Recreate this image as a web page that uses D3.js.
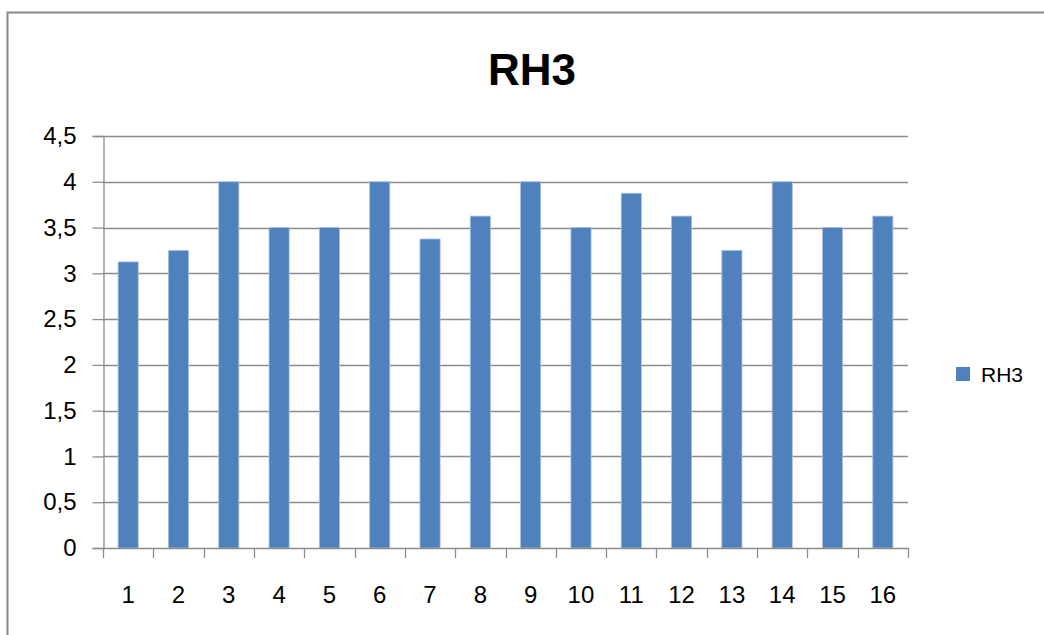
<!DOCTYPE html>
<html>
<head>
<meta charset="utf-8">
<script src="https://cdn.jsdelivr.net/npm/d3@7"></script>
<style>
  html, body { margin: 0; padding: 0; background: #fff; }
  svg { display: block; }
  text { font-family: "Liberation Sans", Arial, sans-serif; fill: #000; }
</style>
</head>
<body>
<svg id="chart" width="1044" height="635"></svg>
<script>
// RH3 scores per item
const categories = ["1","2","3","4","5","6","7","8","9","10","11","12","13","14","15","16"];
const values = [3.125, 3.25, 4, 3.5, 3.5, 4, 3.375, 3.625, 4, 3.5, 3.875, 3.625, 3.25, 4, 3.5, 3.625];
const yTicks = [0, 0.5, 1, 1.5, 2, 2.5, 3, 3.5, 4, 4.5];
const seriesName = "RH3";

const svg = d3.select("#chart");
const W = 1044, H = 635;
const plot = { left: 103, right: 908, top: 136, bottom: 548 };
const barColor = "#4F81BD";
const gridColor = "#8c8c8c";

// outer chart frame
svg.append("rect")
  .attr("x", 7.5).attr("y", 12.5)
  .attr("width", W + 10).attr("height", H + 10)
  .attr("fill", "#fff")
  .attr("stroke", "#888").attr("stroke-width", 2);

const x = d3.scaleBand()
  .domain(categories)
  .range([plot.left, plot.right])
  .paddingInner(0.6)
  .paddingOuter(0.3);

const y = d3.scaleLinear()
  .domain([0, 4.5])
  .range([plot.bottom, plot.top]);

// horizontal gridlines
svg.append("g")
  .selectAll("line")
  .data(yTicks.filter(t => t > 0))
  .join("line")
  .attr("x1", plot.left).attr("x2", plot.right)
  .attr("y1", d => Math.round(y(d)) + 0.5)
  .attr("y2", d => Math.round(y(d)) + 0.5)
  .attr("stroke", gridColor).attr("stroke-width", 1.3);

// bars
svg.append("g")
  .selectAll("rect")
  .data(values)
  .join("rect")
  .attr("x", (d, i) => x(categories[i]))
  .attr("width", x.bandwidth())
  .attr("y", d => y(d))
  .attr("height", d => y(0) - y(d))
  .attr("fill", barColor)
  .attr("stroke", "#a9c0de").attr("stroke-width", 0.8);

// y axis
const yAxis = d3.axisLeft(y)
  .tickValues(yTicks)
  .tickSize(11)
  .tickPadding(16)
  .tickFormat(d => String(d).replace(".", ","));
const gy = svg.append("g")
  .attr("transform", `translate(${plot.left + 0.5},0)`)
  .call(yAxis);
gy.select(".domain").attr("stroke", gridColor).attr("stroke-width", 1.3);
gy.selectAll(".tick line").attr("stroke", gridColor).attr("stroke-width", 1.3);
gy.selectAll(".tick text")
  .attr("font-size", 24)
  .attr("font-family", "Liberation Sans, Arial, sans-serif")
  .attr("fill", "#000");

// x axis: category boundaries as ticks
const boundaries = d3.range(categories.length + 1).map(i => plot.left + i * (plot.right - plot.left) / categories.length);
const gx = svg.append("g");
gx.append("line")
  .attr("x1", plot.left).attr("x2", plot.right)
  .attr("y1", plot.bottom + 0.5).attr("y2", plot.bottom + 0.5)
  .attr("stroke", gridColor).attr("stroke-width", 1.3);
gx.selectAll("line.tk")
  .data(boundaries)
  .join("line")
  .attr("class", "tk")
  .attr("x1", d => Math.round(d) + 0.5).attr("x2", d => Math.round(d) + 0.5)
  .attr("y1", plot.bottom).attr("y2", plot.bottom + 10)
  .attr("stroke", gridColor).attr("stroke-width", 1.3);
gx.selectAll("text")
  .data(categories)
  .join("text")
  .attr("x", d => x(d) + x.bandwidth() / 2)
  .attr("y", 603)
  .attr("text-anchor", "middle")
  .attr("font-size", 24)
  .text(d => d);

// title
svg.append("text")
  .attr("x", 532).attr("y", 85)
  .attr("text-anchor", "middle")
  .attr("font-size", 44)
  .attr("font-weight", "bold")
  .text(seriesName);

// legend
const lg = svg.append("g").attr("transform", "translate(956,367)");
lg.append("rect")
  .attr("width", 14).attr("height", 14)
  .attr("fill", barColor);
lg.append("text")
  .attr("x", 25).attr("y", 14.5)
  .attr("font-size", 21)
  .text(seriesName);
</script>
</body>
</html>
